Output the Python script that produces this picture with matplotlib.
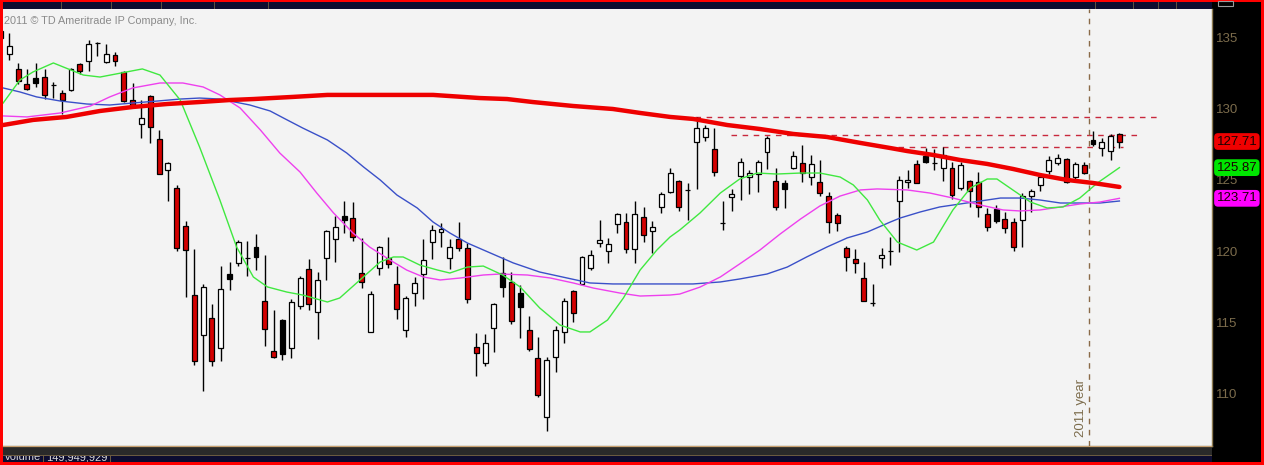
import matplotlib
matplotlib.use("Agg")
import matplotlib.pyplot as plt
from matplotlib.patches import Rectangle
from matplotlib.transforms import blended_transform_factory

plt.rcParams['font.family'] = ['Liberation Sans', 'DejaVu Sans']

# weekly candles (index 0 is the half-hidden one on the left edge)
opens = [135.50, 133.87, 132.82, 131.76, 132.18, 132.25, 131.67, 131.13, 131.34, 133.17,
         133.38, 134.63, 133.31, 133.80, 132.61, 130.63, 128.94, 130.92, 127.89, 125.70,
         124.44, 121.76, 116.90, 114.09, 115.28, 113.17, 118.38, 119.16, 119.49, 120.28,
         116.48, 112.96, 115.14, 113.17, 116.13, 118.73, 115.70, 119.51, 120.85, 122.47,
         122.32, 118.45, 114.30, 118.80, 119.51, 117.68, 114.44, 117.04, 118.38, 120.63,
         121.34, 119.51, 120.85, 120.21, 113.24, 112.11, 114.58, 118.45, 117.82, 117.04,
         114.44, 112.47, 108.31, 112.54, 114.30, 117.18, 117.68, 118.80, 120.56, 120.00,
         121.90, 122.04, 120.14, 122.39, 121.41, 123.10, 124.16, 124.93, 124.28, 127.68,
         128.03, 127.18, 121.95, 123.80, 125.28, 125.21, 125.42, 126.97, 124.93, 124.79,
         125.85, 126.20, 125.21, 124.86, 123.87, 122.54, 120.21, 119.44, 118.10, 116.32,
         119.51, 119.98, 123.52, 124.86, 126.13, 126.69, 126.18, 125.85, 125.85, 124.44,
         124.93, 124.86, 122.61, 122.96, 122.25, 122.04, 122.18, 123.87, 124.65, 125.63,
         126.20, 126.48, 125.21, 126.06, 127.82, 127.25, 127.04, 128.24]
highs = [135.60, 135.35, 133.24, 132.82, 133.24, 132.82, 131.90, 131.34, 132.89, 133.24,
         134.86, 134.72, 134.58, 134.01, 132.68, 131.83, 130.63, 130.99, 128.52, 126.27,
         124.65, 122.11, 120.14, 117.68, 116.27, 118.94, 119.23, 120.78, 120.70, 121.20,
         119.72, 115.85, 115.21, 116.62, 118.24, 119.44, 118.52, 121.48, 122.47, 123.52,
         123.45, 120.92, 117.18, 120.35, 120.99, 118.94, 116.83, 118.17, 120.85, 121.83,
         121.97, 120.85, 122.04, 120.56, 114.23, 114.16, 116.34, 119.58, 118.52, 117.61,
         115.42, 113.94, 112.54, 114.72, 116.69, 117.25, 119.65, 120.07, 122.18, 120.92,
         122.68, 122.68, 123.52, 123.10, 122.11, 124.16, 125.85, 125.00, 124.79, 129.44,
         128.87, 128.66, 123.52, 124.37, 126.55, 125.70, 126.41, 128.10, 125.85, 125.00,
         127.04, 127.46, 126.76, 126.41, 124.16, 122.68, 120.35, 120.14, 119.23, 117.68,
         120.21, 120.99, 125.28, 125.70, 126.41, 127.25, 127.18, 127.32, 126.27, 126.27,
         125.00, 125.56, 123.03, 123.24, 122.75, 122.32, 124.08, 124.37, 125.35, 126.69,
         126.83, 126.55, 126.27, 126.27, 128.45, 127.96, 128.24, 128.31]
lows = [134.90, 133.45, 131.76, 131.34, 131.55, 130.70, 130.77, 129.65, 131.27, 132.46,
        132.68, 133.73, 133.24, 133.03, 130.49, 130.14, 127.96, 127.61, 125.40, 123.52,
        120.00, 116.76, 111.97, 110.14, 111.90, 112.25, 117.25, 118.94, 118.24, 118.66,
        113.31, 112.47, 112.32, 112.47, 115.92, 115.85, 113.80, 117.96, 119.23, 121.27,
        120.70, 117.39, 114.30, 118.31, 118.80, 115.21, 113.94, 116.13, 116.62, 119.44,
        120.28, 118.73, 120.00, 116.34, 111.20, 111.90, 112.89, 116.76, 114.86, 113.87,
        112.96, 109.72, 107.33, 111.48, 113.52, 115.00, 117.61, 118.66, 120.28, 119.16,
        121.27, 119.86, 119.16, 120.63, 119.86, 122.68, 124.08, 122.82, 122.18, 124.37,
        127.75, 125.28, 121.48, 122.82, 123.59, 124.01, 124.16, 125.78, 122.89, 123.03,
        125.78, 124.86, 124.65, 123.87, 121.27, 121.41, 118.59, 118.45, 116.45, 116.13,
        118.80, 119.01, 119.93, 124.44, 124.79, 126.20, 125.70, 124.93, 123.66, 124.30,
        123.10, 122.39, 121.41, 121.97, 121.27, 120.00, 120.28, 122.75, 124.23, 125.42,
        126.06, 124.79, 124.86, 125.42, 127.39, 126.69, 126.41, 127.25]
closes = [135.00, 134.44, 131.97, 131.41, 131.83, 130.99, 131.69, 130.63, 132.82, 132.68,
          134.58, 134.65, 133.87, 133.38, 130.56, 130.28, 129.37, 128.73, 125.42, 126.20,
          120.21, 120.07, 112.25, 117.46, 112.25, 117.32, 118.03, 120.63, 119.51, 119.58,
          114.51, 112.54, 112.75, 116.41, 118.10, 116.27, 117.96, 121.41, 121.69, 122.18,
          120.99, 117.82, 116.97, 120.28, 119.09, 115.92, 116.69, 117.75, 119.37, 121.48,
          121.55, 120.28, 120.21, 116.62, 112.82, 113.52, 116.27, 117.46, 115.07, 116.06,
          113.10, 109.86, 112.32, 114.44, 116.48, 115.63, 119.58, 119.72, 120.78, 120.49,
          122.61, 120.14, 122.61, 121.13, 121.69, 124.01, 125.49, 123.10, 124.30, 128.66,
          128.66, 125.56, 121.97, 124.01, 126.27, 125.49, 126.27, 127.96, 123.10, 124.37,
          126.69, 125.49, 126.13, 124.08, 122.04, 121.97, 119.58, 119.16, 116.48, 116.34,
          119.72, 120.00, 125.00, 125.00, 124.79, 126.27, 126.20, 126.76, 123.94, 126.06,
          124.23, 123.10, 121.69, 122.11, 121.62, 120.28, 123.87, 124.23, 125.21, 126.41,
          126.55, 124.86, 126.13, 125.49, 127.54, 127.68, 128.10, 127.71]

# moving averages: (bar index, price)
green_x = [0.3, 2.2, 3.7, 6.0, 9.4, 11.3, 16.1, 18.1, 20.4, 22.6, 24.9, 26.8, 28.7, 30.3,
           32.5, 34.3, 37.1, 38.5, 40.8, 43.1, 44.6, 45.7, 47.6, 49.6, 51.0, 53.0, 54.8,
           57.0, 59.0, 61.2, 63.5, 65.8, 66.9, 68.9, 70.7, 72.6, 74.5, 76.0, 77.1, 79.4,
           81.7, 83.9, 85.9, 88.1, 90.8, 93.0, 95.3, 96.8, 98.4, 99.8, 101.8, 104.0, 105.9,
           108.1, 110.1, 112.0, 113.1, 114.9, 116.9, 118.8, 120.6, 122.5, 124.5, 127.0]
green_y = [130.42, 132.04, 132.61, 133.24, 132.39, 132.25, 132.82, 132.39, 130.63, 127.32,
           123.59, 120.28, 118.17, 117.47, 117.11, 116.90, 116.41, 116.69, 117.96, 119.23,
           119.58, 119.58, 119.01, 118.66, 118.45, 118.87, 118.94, 118.31, 117.46, 115.99,
           114.79, 114.30, 114.30, 115.14, 116.69, 118.66, 120.07, 120.99, 121.48, 122.68,
           124.08, 125.07, 125.49, 125.42, 125.49, 125.49, 125.21, 124.65, 123.59, 122.18,
           120.63, 120.07, 120.63, 122.89, 124.44, 125.07, 125.07, 124.30, 123.45, 123.03,
           123.10, 123.73, 124.79, 125.87]
mag_x = [0.3, 3.0, 6.8, 10.2, 12.4, 15.0, 18.1, 20.7, 23.0, 24.9, 27.2, 29.5, 31.7, 34.0,
         35.9, 37.8, 40.0, 41.9, 44.2, 46.1, 48.0, 49.9, 52.2, 54.8, 56.7, 59.8, 62.4, 65.0,
         67.3, 70.3, 72.6, 76.0, 77.1, 79.4, 81.7, 83.9, 86.2, 88.5, 90.8, 93.0, 95.3, 97.6,
         99.5, 102.9, 105.5, 108.1, 111.2, 113.8, 115.7, 118.0, 120.3, 122.5, 124.8, 127.0]
mag_y = [129.51, 129.44, 129.72, 130.21, 130.85, 131.48, 131.83, 131.83, 131.55, 130.99,
         130.07, 128.52, 126.90, 125.56, 124.08, 122.68, 121.27, 120.28, 119.37, 118.66,
         118.17, 117.96, 118.10, 118.31, 118.38, 118.31, 118.10, 117.75, 117.39, 117.04,
         116.83, 116.90, 116.97, 117.46, 118.17, 119.09, 120.07, 121.20, 122.25, 123.17,
         123.87, 124.30, 124.37, 124.30, 124.08, 123.73, 123.24, 122.89, 122.82, 122.89,
         123.10, 123.31, 123.45, 123.71]
blue_x = [0.3, 2.2, 4.1, 6.8, 9.8, 12.4, 15.0, 17.8, 20.4, 22.6, 24.9, 28.3, 30.6, 32.1,
          34.3, 37.1, 39.3, 41.2, 43.1, 45.0, 47.3, 49.1, 51.0, 53.0, 55.6, 58.2, 61.2,
          64.3, 66.9, 69.5, 72.6, 78.6, 81.7, 83.9, 87.0, 89.3, 91.5, 93.8, 96.1, 98.4,
          101.0, 102.1, 104.4, 106.6, 108.9, 111.2, 113.5, 115.7, 118.0, 120.3, 122.5,
          124.8, 127.0]
blue_y = [131.48, 131.20, 130.85, 130.56, 130.35, 130.28, 130.42, 130.56, 130.70, 130.77,
          130.70, 130.28, 129.86, 129.37, 128.66, 127.82, 126.90, 125.92, 125.00, 123.94,
          123.03, 122.04, 121.27, 120.56, 119.86, 119.16, 118.52, 118.10, 117.75, 117.68,
          117.68, 117.68, 117.82, 118.03, 118.38, 118.87, 119.58, 120.28, 120.92, 121.34,
          122.04, 122.32, 122.75, 123.10, 123.31, 123.52, 123.73, 123.73, 123.59, 123.38,
          123.38, 123.38, 123.52]
slow_x = [0.3, 3.7, 7.5, 11.3, 15.0, 18.9, 22.6, 26.0, 28.7, 33.2, 37.1, 41.9, 49.1, 54.4,
          57.5, 60.4, 65.0, 69.5, 72.6, 76.0, 78.6, 82.5, 86.2, 90.0, 93.8, 97.6, 101.0,
          102.9, 105.9, 108.9, 112.0, 114.9, 118.0, 121.1, 124.0, 127.0]
slow_y = [128.87, 129.23, 129.44, 129.86, 130.14, 130.35, 130.49, 130.63, 130.70, 130.85,
          130.99, 130.99, 130.99, 130.77, 130.70, 130.49, 130.21, 130.00, 129.72, 129.44,
          129.30, 128.87, 128.59, 128.24, 128.03, 127.61, 127.25, 127.04, 126.76, 126.41,
          126.13, 125.78, 125.35, 125.00, 124.79, 124.51]

# dashed resistance levels: price, first bar, last bar
level_price = [129.42, 128.17, 127.34]
level_start = [78.8, 82.9, 101.9]
level_end = [131.3, 129.3, 127.4]

year_bar = 123.5
price_ticks = [110, 115, 120, 125, 130, 135]
last_labels = ["127.71", "125.87", "123.71"]
last_values = [127.71, 125.87, 123.71]
last_colors = ["#f00000", "#00e600", "#ff00ff"]

W, H = 1264, 465
TAN = "#7c6c4c"
NAVY = "#0c0c30"


def frac(x0, y0, x1, y1):
    # pixel box (top-left origin) -> figure fraction rect
    return [x0 / W, 1 - y1 / H, (x1 - x0) / W, (y1 - y0) / H]


def px_rect(x0, y0, x1, y1, color, z=0, **kw):
    r = Rectangle((x0 / W, 1 - y1 / H), (x1 - x0) / W, (y1 - y0) / H,
                  transform=fig.transFigure, facecolor=color, edgecolor="none",
                  zorder=z, **kw)
    fig.add_artist(r)


fig = plt.figure(figsize=(W / 100, H / 100), dpi=100, facecolor="#ff0000")

# frame pieces around the chart
px_rect(3, 2, 1212, 9, NAVY)
for sx in [61, 111, 161, 214, 268, 1095, 1133, 1158, 1176]:
    px_rect(sx, 2, sx + 1, 9, "#5a5040", z=1)
px_rect(1212, 2, 1261, 462, "black")
fig.add_artist(Rectangle((1218 / W, 1 - 6 / H), 15 / W, 5 / H, transform=fig.transFigure,
                         facecolor="none", edgecolor="#9a9a9a", lw=0.8, zorder=3))
px_rect(3, 446, 1212, 455, "#2a2a2a")
px_rect(3, 446, 1212, 447, "#c8a070", z=1)
px_rect(3, 455, 1212, 462, NAVY)
px_rect(3, 455, 1212, 456, "#6a5a40", z=1)

axb = fig.add_axes(frac(3, 456, 1212, 462))
axb.set_axis_off()
axb.text(0.001, 1.6, "Volume", color="#d8d8d8", fontsize=8, va="top", clip_on=True,
         transform=axb.transAxes)
axb.text(0.036, 1.6, "149,949,929", color="#d8d8d8", fontsize=8, va="top", clip_on=True,
         transform=axb.transAxes)
for sx in [43, 110]:
    px_rect(sx, 456, sx + 1, 462, "#6a5a40", z=3)

# main price panel
ax = fig.add_axes(frac(3, 9, 1212, 446))
ax.set_facecolor("#f3f3f3")
ax.set_xlim(0.284, 137.51)
ax.set_ylim(106.27, 137.04)

n = len(opens)
xs = list(range(n))
fills = []
for i in range(n):
    if closes[i] >= opens[i]:
        fills.append("white")
    elif i > 0 and closes[i] >= closes[i - 1]:
        fills.append("black")
    else:
        fills.append("#d40000")

ax.vlines(xs, lows, highs, color="black", lw=1.0, zorder=2)
bottoms = [min(o, c) for o, c in zip(opens, closes)]
heights = [max(abs(c - o), 0.035) for o, c in zip(opens, closes)]
ax.bar(xs, heights, bottom=bottoms, width=0.56, color=fills, edgecolor="black",
       linewidth=0.9, zorder=2.5)

ax.plot(blue_x, blue_y, color="#3a50c8", lw=1.0, zorder=3)
ax.plot(mag_x, mag_y, color="#ee40ee", lw=1.0, zorder=3)
ax.plot(green_x, green_y, color="#40e840", lw=1.0, zorder=3)
ax.plot(slow_x, slow_y, color="#ee0000", lw=3.2, zorder=3.2, solid_capstyle="round")

for p, a, b in zip(level_price, level_start, level_end):
    ax.hlines(p, a, b, color="#c8283c", lw=1.0, linestyles=(0, (4, 4)), zorder=1.5)
ax.axvline(year_bar, color="#8a6a48", lw=1.0, linestyle=(0, (4, 4)), zorder=1.5)
ax.text(year_bar - 0.15, 106.9, "2011 year", rotation=90, ha="right", va="bottom",
        color=TAN, fontsize=9.5)

ax.text(0.45, 136.2, "2011 \u00a9 TD Ameritrade IP Company, Inc.", color="#8a8a8a",
        fontsize=7.8, va="center", ha="left")

ax.set_xticks([])
ax.set_yticks(price_ticks)
ax.yaxis.tick_right()
ax.tick_params(axis="y", length=0, pad=3, labelcolor=TAN, labelsize=9.5)
for side in ["left", "top"]:
    ax.spines[side].set_visible(False)
for side in ["right", "bottom"]:
    ax.spines[side].set_color("#8c7a50")
    ax.spines[side].set_linewidth(1.0)

tr = blended_transform_factory(fig.transFigure, ax.transData)
for lab, v, c in zip(last_labels, last_values, last_colors):
    ax.text(1216.5 / W, v, lab, transform=tr, fontsize=9.5, color="#1a0000",
            ha="left", va="center", clip_on=False, zorder=5,
            bbox=dict(boxstyle="round,pad=0.18,rounding_size=0.3", facecolor=c,
                      edgecolor="none"))

fig.savefig("out.png", dpi=100, facecolor=fig.get_facecolor())
